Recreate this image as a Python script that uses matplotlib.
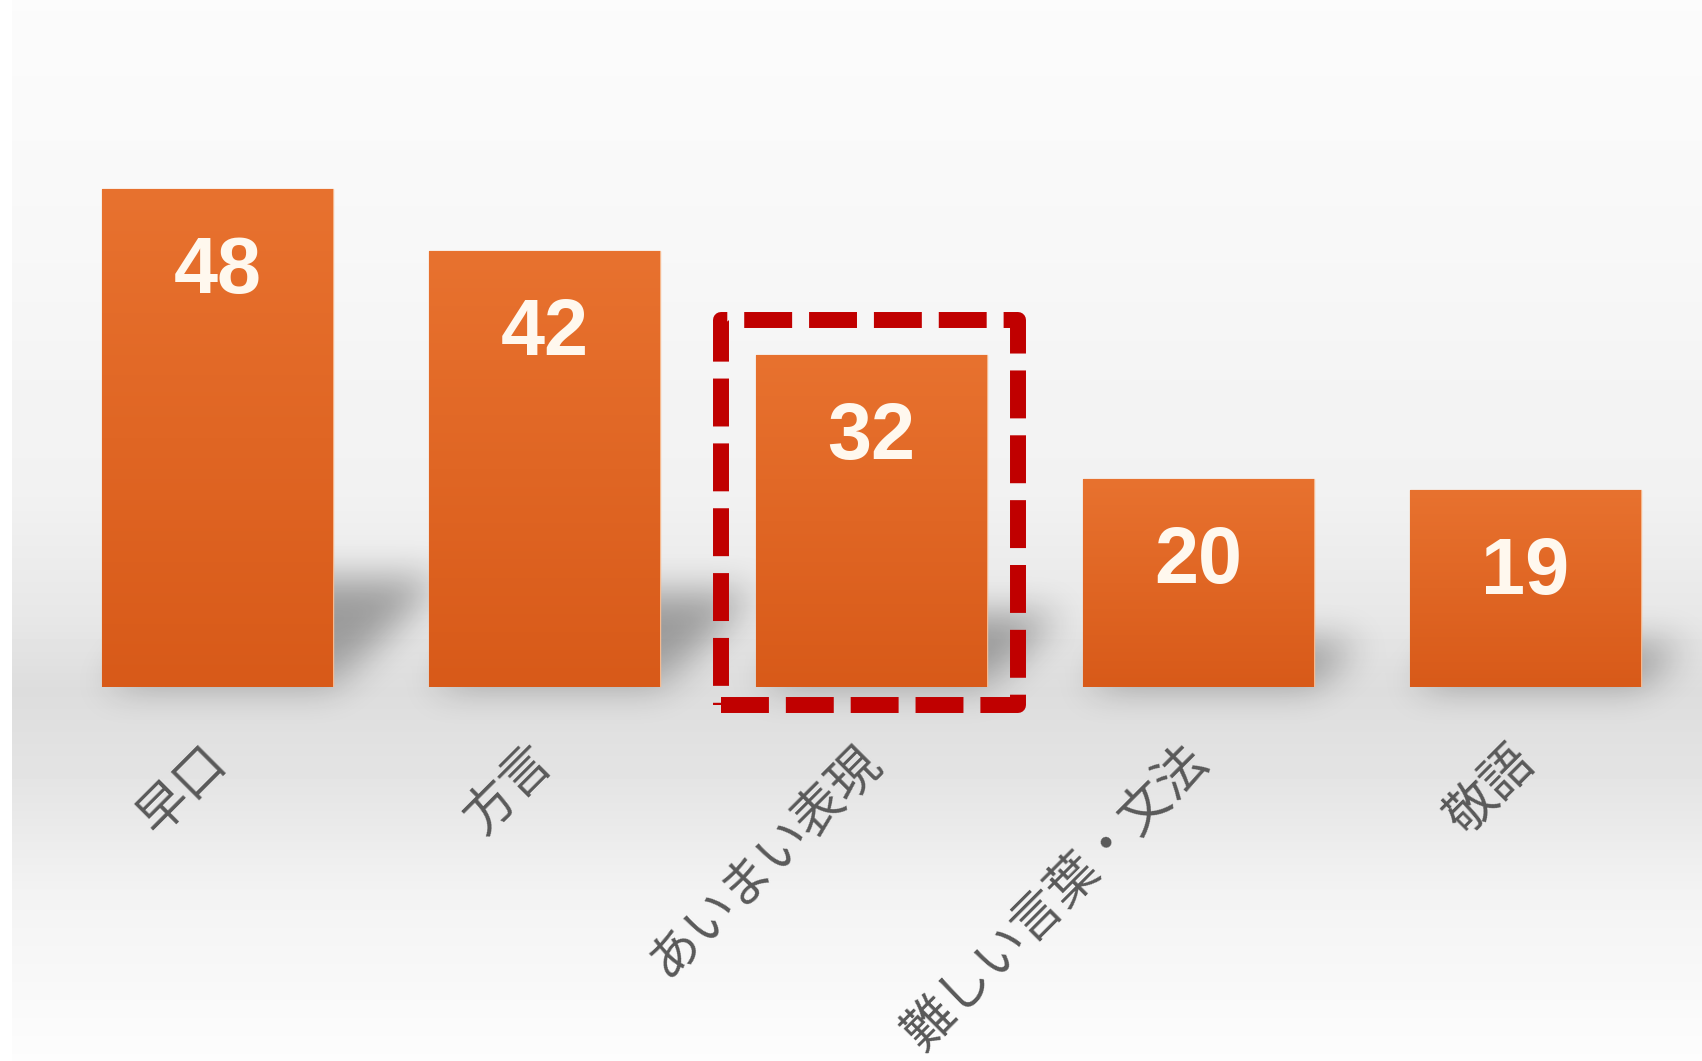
import numpy as np
import matplotlib
matplotlib.use('Agg')
import matplotlib.pyplot as plt
from matplotlib.patches import Rectangle
from matplotlib.colors import LinearSegmentedColormap
from matplotlib.transforms import ScaledTranslation

categories = ['早口', '方言', 'あいまい表現', '難しい言葉・文法', '敬語']
values = [48, 42, 32, 20, 19]
highlight = 2  # あいまい表現 gets the red dashed frame

W, H = 1702, 1061
fig = plt.figure(figsize=(W / 100, H / 100), dpi=100)

# background: light gray vertical gradient, darkest at the bar base
bg = fig.add_axes([0, 0, 1, 1])
bg.set_axis_off()
rows = np.array([0, 250, 500, 620, 690, 780, 900, 1061])
shade = np.array([0.985, 0.97, 0.945, 0.905, 0.865, 0.895, 0.955, 0.99])
col = np.interp(np.arange(H), rows, shade)
bg.imshow(np.tile(col[:, None], (1, W)), cmap='gray', vmin=0, vmax=1,
          aspect='auto', extent=[0, W, H, 0], interpolation='bilinear')
bg.add_patch(Rectangle((0, 0), 12, H, color='white', lw=0))
bg.set_xlim(0, W)
bg.set_ylim(H, 0)

ax = fig.add_axes([0, (H - 687) / H, 1, 687 / H])
ax.patch.set_alpha(0)
x = np.arange(len(values))
ax.set_xlim(-0.665, 4.54)
ax.set_ylim(0, 66.2)
bar_w = 0.705


def box_blur(a, r, axis):
    c = np.cumsum(np.pad(a, [(r + 1, r) if i == axis else (0, 0) for i in range(2)], mode='edge'), axis=axis)
    n = a.shape[axis]
    hi = np.take(c, np.arange(2 * r + 1, 2 * r + 1 + n), axis=axis)
    lo = np.take(c, np.arange(0, n), axis=axis)
    return (hi - lo) / (2 * r + 1)


# cast shadows of the bars toward the upper right
XX, YY = np.meshgrid(np.arange(W), np.arange(H))
mask = np.zeros((H, W))
for xi, v in zip(x, values):
    (xl, yb), (xr, yt) = ax.transData.transform([(xi - bar_w / 2, 0), (xi + bar_w / 2, v)])
    base = H - yb
    h = yt - yb
    sh, s = 0.22 * h, 0.22 * h
    t = (base - YY) / sh
    left = xl + s * t
    right = xr + s * t
    inside = (t >= 0) & (t <= 1) & (XX >= left) & (XX <= right)
    mask = np.maximum(mask, inside * (0.7 + 0.3 * np.clip(t * 2, 0, 1)))
for _ in range(3):
    mask = box_blur(mask, 17, 0)
    mask = box_blur(mask, 17, 1)
shadow = np.zeros((H, W, 4))
shadow[..., 3] = 0.33 * mask
bg.imshow(shadow, aspect='auto', extent=[0, W, H, 0], interpolation='bilinear')
bg.set_xlim(0, W)
bg.set_ylim(H, 0)

bars = ax.bar(x, values, width=bar_w, color='#e2682a', edgecolor='#f6b98f', linewidth=1, zorder=2)
bar_cmap = LinearSegmentedColormap.from_list('bar', ['#d85a19', '#e8722f'])
grad = np.linspace(0, 1, 256)[:, None]
for b in bars:
    im = ax.imshow(grad, cmap=bar_cmap, origin='lower', aspect='auto', zorder=2.5,
                   extent=[b.get_x(), b.get_x() + b.get_width(), 0, b.get_height()])
    im.set_clip_path(b)
ax.set_xlim(-0.665, 4.54)
ax.set_ylim(0, 66.2)

for xi, v in zip(x, values):
    ax.text(xi, v - 10, str(v), ha='center', va='baseline', color='#fff8ee',
            fontsize=57, fontweight='bold', family=['Liberation Sans', 'DejaVu Sans'], zorder=4)

ax.add_patch(Rectangle((highlight - 0.46, -1.73), 0.908, 37.13, fill=False,
                       ec='#c00000', lw=11.5, ls=(0, (3, 1.06)), joinstyle='round',
                       clip_on=False, zorder=5))

ax.set_xticks(x)
ax.set_xticklabels(categories, rotation=45, ha='right', rotation_mode='anchor',
                   fontsize=36.6, color='#595959',
                   family=['Noto Sans CJK JP', 'DejaVu Sans'])
ax.tick_params(axis='x', length=0, pad=35)
for lab in ax.get_xticklabels():
    lab.set_transform(lab.get_transform() + ScaledTranslation(-0.17, 0, fig.dpi_scale_trans))
ax.set_yticks([])
for sp in ax.spines.values():
    sp.set_visible(False)

fig.savefig('out.png', dpi=100)
